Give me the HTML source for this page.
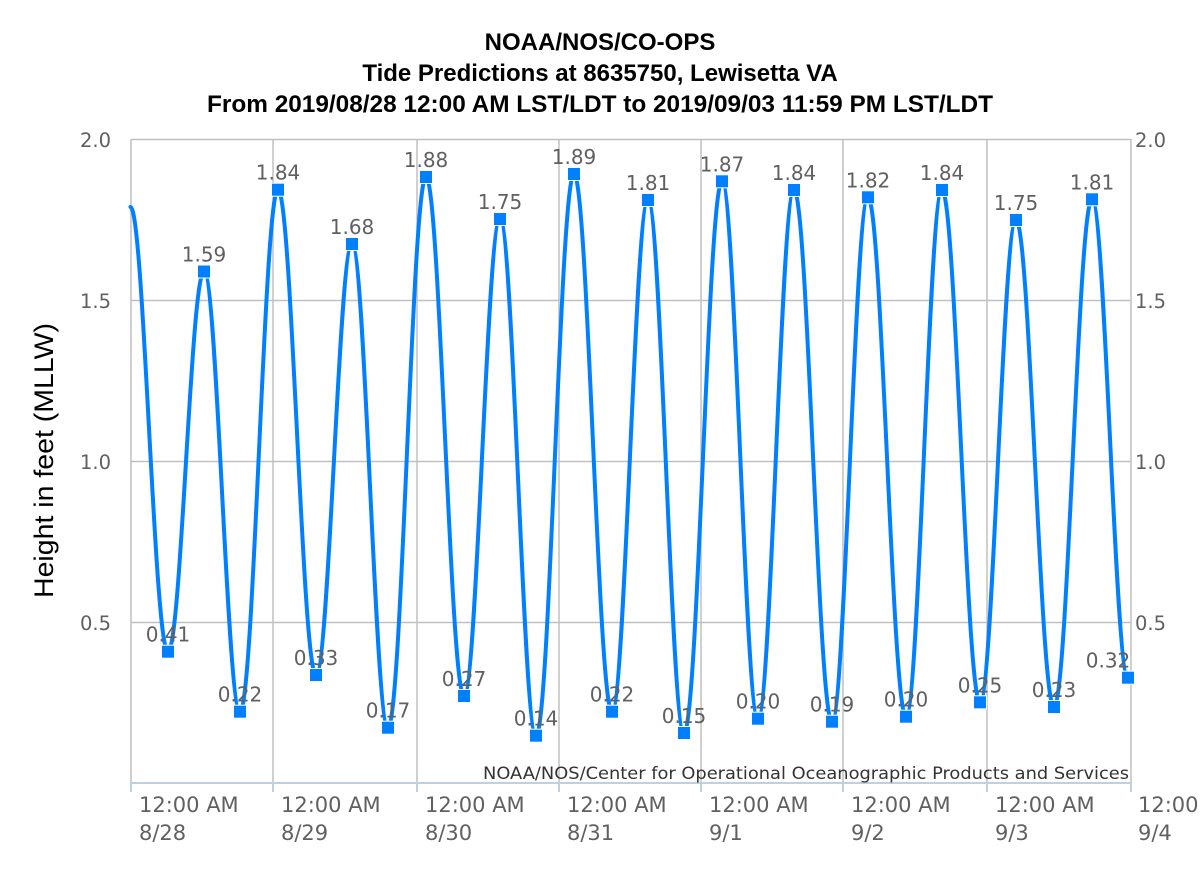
<!DOCTYPE html>
<html>
<head>
<meta charset="utf-8">
<style>
  html, body { margin: 0; padding: 0; background: #fff; }
  svg { display: block; }
  .title { font-family: "Liberation Sans", Arial, sans-serif; font-weight: bold; font-size: 24px; fill: #000; }
  .tick { font-family: "DejaVu Sans", Verdana, sans-serif; fill: #606060; }
  .dl { font-family: "DejaVu Sans", Verdana, sans-serif; font-size: 20px; fill: #606060; text-anchor: middle; }
</style>
</head>
<body>
<svg width="1200" height="874" viewBox="0 0 1200 874" xmlns="http://www.w3.org/2000/svg">
  <rect x="0" y="0" width="1200" height="874" fill="#fff"/>

  <!-- Title -->
  <text class="title" x="600" y="50" text-anchor="middle">NOAA/NOS/CO-OPS</text>
  <text class="title" x="600" y="81" text-anchor="middle">Tide Predictions at 8635750, Lewisetta VA</text>
  <text class="title" x="600" y="112" text-anchor="middle" textLength="786" lengthAdjust="spacingAndGlyphs">From 2019/08/28 12:00 AM LST/LDT to 2019/09/03 11:59 PM LST/LDT</text>

  <!-- Horizontal gridlines -->
  <g stroke="#c0c0c0" stroke-width="1.5">
    <line x1="131" y1="139.5" x2="1131" y2="139.5"/>
    <line x1="131" y1="300.5" x2="1131" y2="300.5"/>
    <line x1="131" y1="461.5" x2="1131" y2="461.5"/>
    <line x1="131" y1="622.5" x2="1131" y2="622.5"/>
  </g>
  <!-- Vertical gridlines -->
  <g stroke="#c0c0c0" stroke-width="1.5">
    <line x1="131" y1="139" x2="131" y2="783"/>
    <line x1="273" y1="139" x2="273" y2="783"/>
    <line x1="417" y1="139" x2="417" y2="783"/>
    <line x1="559" y1="139" x2="559" y2="783"/>
    <line x1="701" y1="139" x2="701" y2="783"/>
    <line x1="843" y1="139" x2="843" y2="783"/>
    <line x1="987" y1="139" x2="987" y2="783"/>
    <line x1="1131" y1="139" x2="1131" y2="783"/>
  </g>

  <!-- X axis line & ticks -->
  <g stroke="#c0d0e0" stroke-width="2">
    <line x1="130" y1="783" x2="1132" y2="783"/>
    <line x1="131" y1="783" x2="131" y2="792"/>
    <line x1="273" y1="783" x2="273" y2="792"/>
    <line x1="417" y1="783" x2="417" y2="792"/>
    <line x1="559" y1="783" x2="559" y2="792"/>
    <line x1="701" y1="783" x2="701" y2="792"/>
    <line x1="843" y1="783" x2="843" y2="792"/>
    <line x1="987" y1="783" x2="987" y2="792"/>
    <line x1="1131" y1="783" x2="1131" y2="792"/>
  </g>

  <!-- Y axis labels left -->
  <g class="tick" font-size="19.5" text-anchor="end">
    <text x="111" y="147">2.0</text>
    <text x="111" y="308">1.5</text>
    <text x="111" y="469">1.0</text>
    <text x="111" y="630">0.5</text>
  </g>
  <!-- Y axis labels right -->
  <g class="tick" font-size="19.5" text-anchor="start">
    <text x="1135" y="147">2.0</text>
    <text x="1135" y="308">1.5</text>
    <text x="1135" y="469">1.0</text>
    <text x="1135" y="630">0.5</text>
  </g>

  <!-- Y axis title -->
  <text x="53" y="460.5" transform="rotate(-90 53 460.5)" text-anchor="middle" font-family="'Liberation Sans', Arial, sans-serif" font-size="27" fill="#000" textLength="275" lengthAdjust="spacingAndGlyphs">Height in feet (MLLW)</text>

  <!-- X axis labels -->
  <g class="tick" font-size="21">
    <text x="139" y="812">12:00 AM</text><text x="139" y="840">8/28</text>
    <text x="281" y="812">12:00 AM</text><text x="281" y="840">8/29</text>
    <text x="425" y="812">12:00 AM</text><text x="425" y="840">8/30</text>
    <text x="567" y="812">12:00 AM</text><text x="567" y="840">8/31</text>
    <text x="709" y="812">12:00 AM</text><text x="709" y="840">9/1</text>
    <text x="851" y="812">12:00 AM</text><text x="851" y="840">9/2</text>
    <text x="995" y="812">12:00 AM</text><text x="995" y="840">9/3</text>
    <text x="1138" y="812">12:00 AM</text><text x="1138" y="840">9/4</text>
  </g>

  <!-- Credit -->
  <text x="483" y="779" font-family="'DejaVu Sans', Verdana, sans-serif" font-size="17" fill="#333" textLength="646" lengthAdjust="spacingAndGlyphs">NOAA/NOS/Center for Operational Oceanographic Products and Services</text>

  <!-- Series line -->
  <path fill="none" stroke="#0080ff" stroke-width="4" stroke-linejoin="round" stroke-linecap="round"
    d="M130.5,207
       C143.8,207 154.2,651.7 168,651.7
       C181.1,651.7 190.9,271.5 204,271.5
       C217.1,271.5 226.9,711.7 240,711.7
       C253.8,711.7 264.2,189.7 278,189.7
       C291.8,189.7 302.2,675 316,675
       C329.1,675 338.9,244 352,244
       C365.1,244 374.9,727.7 388,727.7
       C401.8,727.7 412.2,177 426,177
       C439.8,177 450.2,696 464,696
       C477.1,696 486.9,219 500,219
       C513.1,219 522.9,735.7 536,735.7
       C549.8,735.7 560.2,174 574,174
       C587.8,174 598.2,711.7 612,711.7
       C625.1,711.7 634.9,200 648,200
       C661.1,200 670.9,733 684,733
       C697.8,733 708.2,181.3 722,181.3
       C735.1,181.3 744.9,718.7 758,718.7
       C771.1,718.7 780.9,190 794,190
       C807.8,190 818.2,721.7 832,721.7
       C845.1,721.7 854.9,197.3 868,197.3
       C881.8,197.3 892.2,716.7 906,716.7
       C919.1,716.7 928.9,190 942,190
       C955.8,190 966.2,702.3 980,702.3
       C993.1,702.3 1002.9,220 1016,220
       C1029.8,220 1040.2,707 1054,707
       C1067.8,707 1078.2,199.3 1092,199.3
       C1105.1,199.3 1114.9,677.7 1128,677.7"/>

  <!-- Markers -->
  <g fill="#0080ff" stroke="#ffffff" stroke-width="1">
    <rect x="161.5" y="645.2" width="13" height="13"/>
    <rect x="197.5" y="265" width="13" height="13"/>
    <rect x="233.5" y="705.2" width="13" height="13"/>
    <rect x="271.5" y="183.2" width="13" height="13"/>
    <rect x="309.5" y="668.5" width="13" height="13"/>
    <rect x="345.5" y="237.5" width="13" height="13"/>
    <rect x="381.5" y="721.2" width="13" height="13"/>
    <rect x="419.5" y="170.5" width="13" height="13"/>
    <rect x="457.5" y="689.5" width="13" height="13"/>
    <rect x="493.5" y="212.5" width="13" height="13"/>
    <rect x="529.5" y="729.2" width="13" height="13"/>
    <rect x="567.5" y="167.5" width="13" height="13"/>
    <rect x="605.5" y="705.2" width="13" height="13"/>
    <rect x="641.5" y="193.5" width="13" height="13"/>
    <rect x="677.5" y="726.5" width="13" height="13"/>
    <rect x="715.5" y="174.8" width="13" height="13"/>
    <rect x="751.5" y="712.2" width="13" height="13"/>
    <rect x="787.5" y="183.5" width="13" height="13"/>
    <rect x="825.5" y="715.2" width="13" height="13"/>
    <rect x="861.5" y="190.8" width="13" height="13"/>
    <rect x="899.5" y="710.2" width="13" height="13"/>
    <rect x="935.5" y="183.5" width="13" height="13"/>
    <rect x="973.5" y="695.8" width="13" height="13"/>
    <rect x="1009.5" y="213.5" width="13" height="13"/>
    <rect x="1047.5" y="700.5" width="13" height="13"/>
    <rect x="1085.5" y="192.8" width="13" height="13"/>
    <rect x="1121.5" y="671.2" width="13" height="13"/>
  </g>

  <!-- Data labels -->
  <g class="dl">
    <text x="168" y="641.7">0.41</text>
    <text x="204" y="261.5">1.59</text>
    <text x="240" y="701.7">0.22</text>
    <text x="278" y="179.7">1.84</text>
    <text x="316" y="665">0.33</text>
    <text x="352" y="234">1.68</text>
    <text x="388" y="717.7">0.17</text>
    <text x="426" y="167">1.88</text>
    <text x="464" y="686">0.27</text>
    <text x="500" y="209">1.75</text>
    <text x="536" y="725.7">0.14</text>
    <text x="574" y="164">1.89</text>
    <text x="612" y="701.7">0.22</text>
    <text x="648" y="190">1.81</text>
    <text x="684" y="723">0.15</text>
    <text x="722" y="171.3">1.87</text>
    <text x="758" y="708.7">0.20</text>
    <text x="794" y="180">1.84</text>
    <text x="832" y="711.7">0.19</text>
    <text x="868" y="187.3">1.82</text>
    <text x="906" y="706.7">0.20</text>
    <text x="942" y="180">1.84</text>
    <text x="980" y="692.3">0.25</text>
    <text x="1016" y="210">1.75</text>
    <text x="1054" y="697">0.23</text>
    <text x="1092" y="189.3">1.81</text>
    <text x="1108" y="667.7">0.32</text>
  </g>
</svg>
</body>
</html>
